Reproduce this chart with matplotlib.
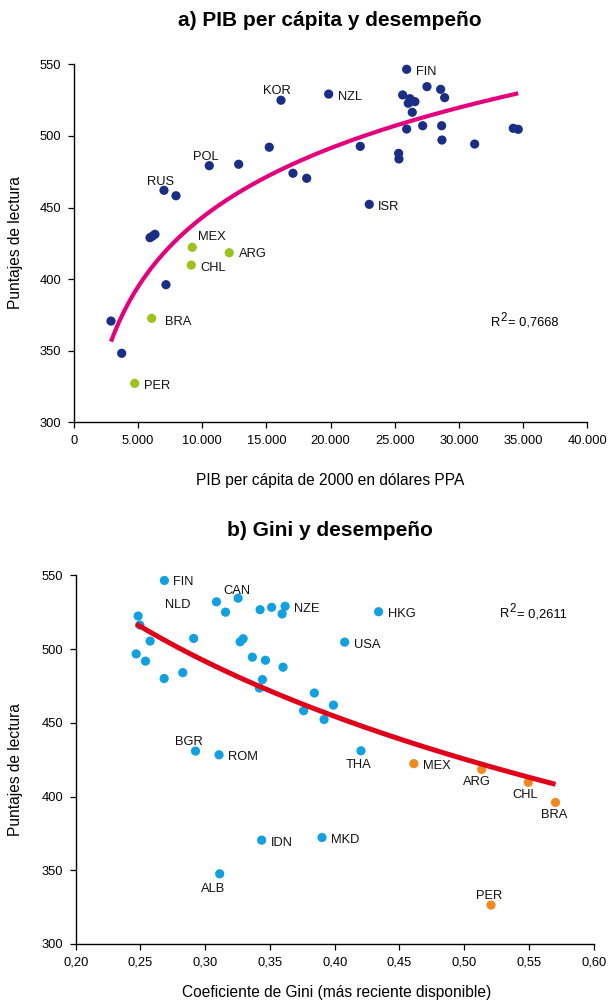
import matplotlib
matplotlib.use("Agg")
import matplotlib.pyplot as plt
import numpy as np
from matplotlib.ticker import FuncFormatter, MultipleLocator

plt.rcParams['font.family'] = ['Liberation Sans', 'DejaVu Sans']

# ---------------- Panel a: GDP per capita vs reading score ----------------
gdp_other = [16130, 19846, 15217, 10542, 12833, 17064, 18132, 7013, 7948,
             5922, 6117, 6311, 7168, 2883, 3717,
             25923, 27505, 28573, 28884, 25612, 26180, 26570, 26048, 26360,
             25923, 27170, 28650, 28674, 31222, 34230, 34619, 22308, 25300,
             25323, 23009]
score_other = [524.9, 529.2, 492.1, 479.2, 480.2, 473.9, 470.4, 462.0, 458.2,
               428.9, 430.0, 431.3, 396.1, 370.7, 348.2,
               546.5, 534.4, 532.5, 526.7, 528.6, 526.0, 523.9, 522.8, 516.5,
               504.8, 507.1, 507.1, 497.1, 494.3, 505.3, 504.6, 492.7, 487.8,
               483.9, 452.2]
gdp_latam = [9218, 12101, 9140, 6054, 4730]
score_latam = [422.2, 418.4, 409.8, 372.6, 327.2]

labels_a = {
    'KOR': (16130, 524.9), 'NZL': (19846, 529.2), 'POL': (10542, 479.2),
    'RUS': (7013, 462.0), 'FIN': (25923, 546.5), 'ISR': (23009, 452.2),
    'MEX': (9218, 422.2), 'ARG': (12101, 418.4), 'CHL': (9140, 409.8),
    'BRA': (6054, 372.6), 'PER': (4730, 327.2),
}
# logarithmic trend: score = a + b * ln(gdp)
trend_a = (-199.4, 69.76)
r2_a = "0,7668"

# ---------------- Panel b: Gini vs reading score ----------------
gini_other = [0.2685, 0.3087, 0.3157, 0.3254, 0.3424, 0.3513, 0.3617, 0.3594,
              0.2482, 0.2495, 0.2575, 0.2911, 0.2467, 0.2539, 0.2683, 0.2827,
              0.3270, 0.3293, 0.3364, 0.3465, 0.3601, 0.3442, 0.3418, 0.3843,
              0.3760, 0.3918, 0.3990, 0.4339, 0.4077, 0.4203, 0.2925, 0.3107,
              0.3436, 0.3902, 0.3112]
score_b_other = [546.5, 532.0, 525.0, 534.5, 526.7, 528.3, 529.0, 523.8,
                 522.4, 516.3, 505.4, 507.2, 496.7, 491.8, 480.0, 484.0,
                 504.9, 507.0, 494.5, 492.4, 487.7, 479.3, 473.6, 470.2,
                 458.2, 452.2, 462.0, 525.3, 504.7, 431.0, 430.8, 428.3,
                 370.4, 372.2, 347.6]
gini_latam = [0.4611, 0.5135, 0.5495, 0.5705, 0.5207]
score_b_latam = [422.3, 418.4, 409.6, 396.0, 326.4]

labels_b = {
    'FIN': (0.2685, 546.5), 'NLD': (0.3087, 532.0), 'CAN': (0.3254, 534.5),
    'NZE': (0.3617, 529.0), 'HKG': (0.4339, 525.3), 'USA': (0.4077, 504.7),
    'THA': (0.4203, 431.0), 'BGR': (0.2925, 430.8), 'ROM': (0.3107, 428.3),
    'MEX': (0.4611, 422.3), 'ARG': (0.5135, 418.4), 'CHL': (0.5495, 409.6),
    'BRA': (0.5705, 396.0), 'IDN': (0.3436, 370.4), 'MKD': (0.3902, 372.2),
    'ALB': (0.3112, 347.6), 'PER': (0.5207, 326.4),
}
trend_b = (335.5, -129.7)
r2_b = "0,2611"

# label placement: (dx, dy) in pixels, horizontal alignment
place_a = {
    'KOR': (-4, 11, 'center'), 'NZL': (9, -1, 'left'), 'POL': (-3, 10, 'center'),
    'RUS': (-3, 10, 'center'), 'FIN': (9, -1, 'left'), 'ISR': (9, -1, 'left'),
    'MEX': (6, 12, 'left'), 'ARG': (10, 0, 'left'), 'CHL': (9, -1, 'left'),
    'BRA': (13, -2, 'left'), 'PER': (9, -1, 'left'),
}
place_b = {
    'FIN': (9, 0, 'left'), 'NLD': (-39, -2, 'center'), 'CAN': (-1, 9, 'center'),
    'NZE': (9, -1, 'left'), 'HKG': (9, -1, 'left'), 'USA': (9, -1, 'left'),
    'THA': (-2, -13, 'center'), 'BGR': (-7, 11, 'center'), 'ROM': (9, -1, 'left'),
    'MEX': (9, -1, 'left'), 'ARG': (-5, -11, 'center'), 'CHL': (-3, -11, 'center'),
    'BRA': (-1, -11, 'center'), 'IDN': (9, -1, 'left'), 'MKD': (9, -1, 'left'),
    'ALB': (-7, -14, 'center'), 'PER': (-2, 11, 'center'),
}

NAVY = '#1B2E85'
GREEN = '#9CC31C'
PINK = '#E4007C'
BLUE = '#12A0E0'
ORANGE = '#F18A1E'
RED = '#E1001A'
FS = 9.3

fig = plt.figure(figsize=(6.08, 10), dpi=100)
ax1 = fig.add_axes([74 / 608, 1 - 422.3 / 1000, 513.3 / 608, 358 / 1000])
ax2 = fig.add_axes([75.7 / 608, 1 - 944 / 1000, 518 / 608, 368.7 / 1000])


def style(ax):
    for s in ('top', 'right'):
        ax.spines[s].set_visible(False)
    for s in ('left', 'bottom'):
        ax.spines[s].set_linewidth(1.0)
        ax.spines[s].set_color('black')
    ax.tick_params(direction='out', length=4, width=0.9, labelsize=FS,
                   colors='black', pad=5)
    ax.set_ylim(300, 550)
    ax.yaxis.set_major_locator(MultipleLocator(50))


def put_labels(ax, labels, place):
    for name, (x, y) in labels.items():
        dx, dy, ha = place[name]
        ax.annotate(name, (x, y), xytext=(dx, dy), textcoords='offset pixels',
                    ha=ha, va='center_baseline', fontsize=FS, color='#111111')


def r_squared(ax, x, y, value):
    # "R" with a large raised "2", then the value
    kw = dict(xycoords='data', textcoords='offset pixels', va='baseline')
    ax.annotate("R", (x, y), xytext=(0, 0), fontsize=FS, **kw)
    ax.annotate("2", (x, y), xytext=(9.5, 5), fontsize=8.3, **kw)
    ax.annotate("= " + value, (x, y), xytext=(16.5, 0), fontsize=FS, **kw)


# Panel a
style(ax1)
ax1.set_xlim(0, 40000)
ax1.xaxis.set_major_locator(MultipleLocator(5000))
ax1.xaxis.set_major_formatter(FuncFormatter(lambda v, p: f"{int(round(v)):,}".replace(',', '.')))
ax1.scatter(gdp_other, score_other, s=44, color=NAVY, edgecolors='none', zorder=3)
ax1.scatter(gdp_latam, score_latam, s=44, color=GREEN, edgecolors='none', zorder=3)
xa = np.linspace(min(gdp_other + gdp_latam), max(gdp_other + gdp_latam), 300)
ax1.plot(xa, trend_a[0] + trend_a[1] * np.log(xa), color=PINK, lw=3.0,
         solid_capstyle='butt', zorder=4)
put_labels(ax1, labels_a, place_a)
r_squared(ax1, 32500, 367.5, r2_a)

# Panel b
style(ax2)
ax2.set_xlim(0.2, 0.6)
ax2.xaxis.set_major_locator(MultipleLocator(0.05))
ax2.xaxis.set_major_formatter(FuncFormatter(lambda v, p: f"{v:.2f}".replace('.', ',')))
ax2.scatter(gini_other, score_b_other, s=44, color=BLUE, edgecolors='none', zorder=3)
ax2.scatter(gini_latam, score_b_latam, s=44, color=ORANGE, edgecolors='none', zorder=3)
xb = np.linspace(min(gini_other + gini_latam), max(gini_other + gini_latam), 300)
ax2.plot(xb, trend_b[0] + trend_b[1] * np.log(xb), color=RED, lw=3.6,
         solid_capstyle='butt', zorder=4)
put_labels(ax2, labels_b, place_b)
r_squared(ax2, 0.5277, 521.5, r2_b)

# Titles and axis labels
fig.text(330 / 608, 1 - 20 / 1000, "a) PIB per cápita y desempeño",
         ha='center', va='center', fontsize=15, fontweight='bold')
fig.text(330 / 608, 1 - 530 / 1000, "b) Gini y desempeño",
         ha='center', va='center', fontsize=15, fontweight='bold')
fig.text(16 / 608, 1 - 243 / 1000, "Puntajes de lectura", rotation=90,
         ha='center', va='center', fontsize=11.2)
fig.text(16 / 608, 1 - 770 / 1000, "Puntajes de lectura", rotation=90,
         ha='center', va='center', fontsize=11.2)
fig.text(330 / 608, 1 - 480 / 1000, "PIB per cápita de 2000 en dólares PPA",
         ha='center', va='center', fontsize=11.2)
fig.text(337 / 608, 1 - 993 / 1000, "Coeficiente de Gini (más reciente disponible)",
         ha='center', va='center', fontsize=11.2)

fig.savefig("out.png", dpi=100)
